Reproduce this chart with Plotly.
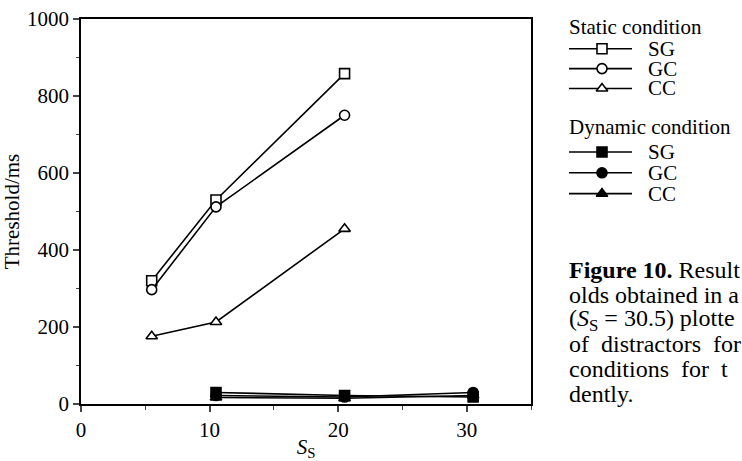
import plotly.graph_objects as go

# ---- data ----
static_x = [5.5, 10.5, 20.5]
static_sg = [320, 530, 858]
static_gc = [297, 512, 750]
static_cc = [176, 213, 455]

dynamic_x = [10.5, 20.5, 30.5]
dynamic_sg = [30, 22, 18]
dynamic_gc = [22, 18, 30]
dynamic_cc = [17, 15, 22]

x_ticks = [0, 10, 20, 30]
y_ticks = [0, 200, 400, 600, 800, 1000]

group_titles = ["Static condition", "Dynamic condition"]
series_names = ["SG", "GC", "CC"]

caption_lines = [
    "<b>Figure 10.</b> Result",
    "olds obtained in a",
    "(<i>S</i><sub>S</sub> = 30.5) plotte",
    "of  distractors  for",
    "conditions  for  t",
    "dently.",
]

FONT = "Liberation Serif"
W, H = 742, 461
L, R, T, B = 81, 531, 19, 407      # plot box in pixels
PAPER_W = W - L                   # right margin 0 -> paper spans to page edge


def px(x):
    return (x - L) / PAPER_W


def py(y):
    return (B - y) / (B - T)


fig = go.Figure()

open_syms = ["square", "circle", "triangle-up"]
static_vals = [static_sg, static_gc, static_cc]
dynamic_vals = [dynamic_sg, dynamic_gc, dynamic_cc]

for name, ys, sym in zip(series_names, static_vals, open_syms):
    fig.add_trace(go.Scatter(
        x=static_x, y=ys, name="Static " + name, mode="lines+markers", showlegend=False,
        line=dict(color="black", width=1.6),
        marker=dict(symbol=sym, size=10, color="white", line=dict(color="black", width=1.6)),
    ))
for name, ys, sym in zip(series_names, dynamic_vals, open_syms):
    fig.add_trace(go.Scatter(
        x=dynamic_x, y=ys, name="Dynamic " + name, mode="lines+markers", showlegend=False,
        line=dict(color="black", width=1.6),
        marker=dict(symbol=sym, size=10, color="black", line=dict(color="black", width=1.6)),
    ))

# ---- hand-made key (drawn on an overlay axis measured in page pixels) ----
key_title_y = [27, 128]
key_row_y = [[49, 69, 89], [153, 174, 195]]
for g, (title, ty, rows) in enumerate(zip(group_titles, key_title_y, key_row_y)):
    fig.add_annotation(text=title, xref="paper", yref="paper", x=px(567), y=py(ty),
                       xanchor="left", yanchor="middle", showarrow=False,
                       font=dict(family=FONT, size=21, color="black"))
    for name, ry, sym in zip(series_names, rows, open_syms):
        fig.add_trace(go.Scatter(
            x=[569, 632], y=[ry, ry], mode="lines", xaxis="x2", yaxis="y2",
            showlegend=False, hoverinfo="skip", line=dict(color="black", width=1.6)))
        fig.add_trace(go.Scatter(
            x=[602], y=[ry], mode="markers", xaxis="x2", yaxis="y2",
            showlegend=False, hoverinfo="skip",
            marker=dict(symbol=sym, size=10, color="white" if g == 0 else "black",
                        line=dict(color="black", width=1.6))))
        fig.add_annotation(text=name, xref="paper", yref="paper", x=px(646), y=py(ry),
                           xanchor="left", yanchor="middle", showarrow=False,
                           font=dict(family=FONT, size=21, color="black"))

fig.update_layout(
    width=W, height=H,
    margin=dict(l=L, r=0, t=T, b=H - B),
    paper_bgcolor="white", plot_bgcolor="white",
    font=dict(family=FONT, size=21, color="black"),
    showlegend=False,
    xaxis=dict(domain=[0, (R - L) / PAPER_W], range=[0, 35], tickvals=x_ticks,
               ticks="outside", ticklen=6, tickwidth=1.5,
               showline=True, linecolor="black", linewidth=1.6, mirror=True,
               showgrid=False, zeroline=False,
               minor=dict(dtick=5, tick0=0, ticks="outside", ticklen=4, tickwidth=1.2),
               title=dict(text="<i>S</i><sub>S</sub>", font=dict(family=FONT, size=21), standoff=4),
               tickfont=dict(family=FONT, size=21)),
    yaxis=dict(range=[0, 1000], tickvals=y_ticks, ticks="outside", ticklen=6, tickwidth=1.5,
               showline=True, linecolor="black", linewidth=1.6, mirror=True,
               showgrid=False, zeroline=False,
               minor=dict(dtick=100, tick0=0, ticks="outside", ticklen=3, tickwidth=1.2),
               title=dict(text="Threshold/ms", font=dict(family=FONT, size=21), standoff=6),
               tickfont=dict(family=FONT, size=21)),
    xaxis2=dict(domain=[px(540), 1], range=[540, W], visible=False, anchor="y2", fixedrange=True),
    yaxis2=dict(domain=[0, 1], range=[B, T], visible=False, anchor="x2", fixedrange=True),
)

for i, line in enumerate(caption_lines):
    fig.add_annotation(
        text=line, xref="paper", yref="paper", x=px(567), y=py(272 + 25 * i),
        xanchor="left", yanchor="middle", showarrow=False,
        font=dict(family=FONT, size=24, color="black"),
    )

fig.write_html("out.html")
